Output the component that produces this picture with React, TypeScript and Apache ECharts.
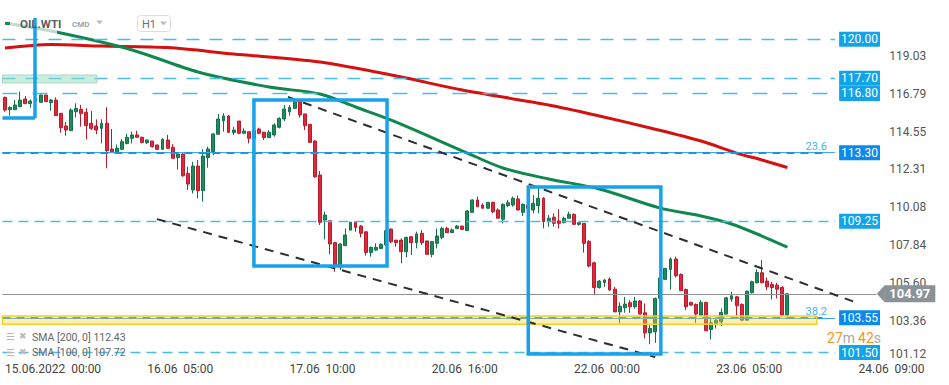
import React, { useEffect, useRef } from 'react';
import * as echarts from 'echarts';

// ---- candles (hourly) ----
const opens = [
  116.57, 115.84, 115.84, 116.02, 116.47, 116.20, 116.35, 116.28, 116.71, 116.26,
  116.41, 115.63, 114.88, 114.60, 115.72, 115.86, 115.69, 115.04, 114.88, 114.74,
  115.04, 113.52, 113.30, 113.50, 113.85, 114.15, 114.35, 114.21, 113.89, 113.99,
  113.76, 113.50, 114.05, 113.62, 113.01, 113.22, 112.08, 111.10, 112.51, 111.06,
  113.01, 113.36, 114.39, 115.19, 115.47, 114.50, 115.17, 114.45, 114.54, 114.15,
  114.70, 114.51, 114.19, 114.35, 114.80, 115.29, 115.72, 115.92, 116.36, 115.59,
  114.98, 113.99, 111.98, 109.32, 109.28, 107.99, 106.62, 107.81, 108.73, 109.19,
  108.97, 108.63, 107.41, 107.55, 107.65, 107.85, 108.79, 108.14, 108.14, 107.45,
  108.34, 107.99, 108.54, 108.09, 107.30, 107.95, 108.30, 108.83, 108.58, 108.83,
  108.97, 108.70, 109.78, 110.51, 110.21, 110.02, 110.37, 109.92, 109.37, 110.17,
  110.21, 110.57, 109.78, 110.21, 109.92, 110.17, 110.61, 109.23, 109.49, 109.27,
  109.17, 109.43, 109.66, 109.07, 109.13, 108.05, 106.80, 105.34, 105.64, 105.84,
  105.24, 103.90, 104.14, 104.44, 104.20, 104.54, 103.85, 102.66, 102.72, 104.69,
  105.82, 106.41, 107.02, 106.11, 105.22, 104.46, 104.34, 103.71, 104.46, 102.86,
  103.21, 103.31, 103.77, 104.65, 104.79, 104.34, 103.41, 105.03, 105.62, 106.21,
  105.72, 105.52, 105.48, 105.34, 103.71,
];
const closes = [
  115.82, 115.98, 116.12, 116.41, 116.20, 116.35, 116.50, 116.71, 116.32, 116.41,
  115.49, 114.78, 114.64, 115.82, 115.92, 115.61, 114.90, 114.74, 114.64, 115.04,
  113.42, 113.32, 113.56, 113.95, 114.21, 114.35, 114.21, 113.91, 114.05, 113.66,
  113.50, 114.09, 113.56, 112.97, 113.22, 111.94, 111.45, 112.51, 111.06, 113.10,
  113.52, 114.41, 115.29, 115.47, 114.50, 114.64, 114.45, 114.58, 114.15, 114.60,
  114.45, 114.19, 114.51, 114.94, 115.33, 115.88, 115.98, 116.32, 115.53, 114.90,
  113.91, 111.88, 109.19, 109.62, 107.91, 106.62, 107.91, 108.44, 109.19, 108.89,
  108.54, 107.41, 107.71, 107.71, 107.89, 108.70, 108.04, 107.99, 107.45, 108.30,
  107.99, 108.50, 107.99, 107.30, 108.05, 108.38, 108.83, 108.58, 108.74, 108.97,
  108.77, 109.86, 110.51, 110.11, 110.02, 110.37, 109.82, 109.43, 110.25, 110.35,
  110.61, 109.92, 110.25, 110.02, 110.31, 110.61, 109.23, 109.43, 109.13, 109.13,
  109.43, 109.66, 109.07, 109.17, 107.95, 106.61, 105.34, 105.72, 105.78, 105.19,
  103.90, 104.24, 104.36, 104.20, 104.54, 103.77, 102.66, 102.92, 104.69, 105.90,
  106.47, 107.02, 106.03, 105.15, 104.20, 104.30, 103.77, 104.46, 102.78, 103.25,
  103.41, 103.87, 104.73, 104.85, 104.26, 103.41, 105.13, 105.68, 106.23, 105.62,
  105.38, 105.34, 105.24, 103.71, 104.97,
];
const lows = [
  115.72, 115.49, 115.84, 116.02, 116.20, 115.96, 116.25, 116.28, 116.32, 115.78,
  115.49, 114.48, 114.31, 114.60, 115.39, 114.84, 114.09, 114.64, 114.39, 113.85,
  112.38, 113.32, 113.26, 113.46, 113.79, 113.85, 114.21, 113.85, 113.81, 113.60,
  113.50, 113.50, 113.56, 112.97, 112.30, 111.88, 111.10, 110.90, 110.60, 110.41,
  112.42, 113.16, 114.39, 114.54, 114.50, 114.35, 114.39, 114.45, 113.85, 114.10,
  114.39, 114.05, 114.19, 114.25, 114.74, 115.17, 115.49, 115.88, 115.37, 114.64,
  113.91, 111.82, 109.03, 108.18, 107.31, 106.27, 106.37, 107.81, 108.73, 108.63,
  108.30, 107.22, 107.16, 107.51, 107.61, 107.80, 107.95, 107.75, 106.77, 107.12,
  107.26, 107.65, 107.85, 107.30, 107.12, 107.65, 108.18, 108.58, 108.58, 108.79,
  108.77, 108.70, 109.78, 110.11, 110.02, 110.02, 109.72, 109.43, 109.13, 110.11,
  110.11, 109.88, 109.56, 109.95, 109.72, 109.72, 108.83, 108.93, 108.93, 108.83,
  109.13, 109.43, 109.07, 108.99, 107.40, 106.53, 104.89, 105.28, 105.38, 105.15,
  103.90, 103.22, 103.85, 103.85, 104.10, 103.77, 102.33, 101.99, 102.07, 104.60,
  105.82, 105.22, 105.93, 105.15, 104.00, 104.26, 103.25, 103.65, 102.78, 102.27,
  102.92, 103.06, 103.77, 104.50, 103.67, 103.41, 103.41, 104.99, 105.58, 105.58,
  105.19, 104.63, 104.69, 103.71, 103.57,
];
const highs = [
  116.61, 116.04, 116.41, 116.91, 116.65, 116.45, 116.60, 116.75, 116.71, 116.47,
  116.57, 115.63, 115.11, 115.92, 116.22, 116.12, 115.92, 115.76, 115.27, 115.27,
  115.98, 114.70, 113.79, 114.09, 114.41, 114.54, 114.60, 114.25, 114.09, 113.99,
  113.76, 114.15, 114.35, 113.81, 113.30, 113.26, 112.48, 112.76, 112.87, 113.50,
  113.66, 114.45, 115.59, 115.63, 115.53, 114.84, 115.17, 114.74, 114.54, 114.70,
  114.78, 114.54, 114.64, 115.04, 115.39, 116.12, 116.12, 116.51, 116.51, 115.59,
  114.98, 114.05, 112.22, 109.82, 109.32, 108.04, 107.95, 108.83, 109.22, 109.22,
  109.03, 108.63, 107.75, 107.95, 107.95, 108.75, 108.83, 108.14, 108.24, 108.34,
  108.34, 108.64, 108.73, 108.09, 108.09, 108.83, 108.93, 108.93, 108.83, 109.03,
  108.97, 109.92, 110.55, 110.71, 110.31, 110.37, 110.41, 110.02, 110.31, 110.51,
  110.71, 110.76, 110.31, 110.25, 110.80, 111.26, 110.67, 109.62, 109.72, 109.96,
  109.52, 109.82, 109.72, 109.19, 109.13, 108.14, 106.86, 105.78, 105.84, 105.93,
  105.38, 104.46, 104.79, 104.59, 104.79, 104.59, 104.40, 103.12, 104.75, 106.00,
  106.47, 107.12, 107.16, 106.17, 105.28, 104.50, 104.40, 104.59, 104.50, 103.51,
  103.57, 104.10, 104.79, 105.09, 104.85, 104.40, 105.13, 105.74, 106.41, 106.96,
  105.93, 105.68, 105.62, 105.42, 104.99,
];

// ---- time axis ----
const categoryCount = 172;
const timeLabelIdx = [0, 28, 56, 84, 112, 140, 168];
const timeLabels = ['15.06.2022  00:00', '16.06  05:00', '17.06  10:00', '20.06  16:00', '22.06  00:00', '23.06  05:00', '24.06  09:00'];

// ---- price axis ----
const priceTicks = [101.12, 103.36, 105.6, 107.84, 110.08, 112.31, 114.55, 116.79, 119.03];
const priceMin = 100.94;
const priceMax = 122.32;

// ---- moving averages (read at sampled candles) ----
const sma200Idx = [0, 9, 19, 32, 45, 62, 78, 90, 107, 117, 127, 137, 144, 149, 154];
const sma200Val = [119.48, 119.69, 119.6, 119.51, 119.13, 118.66, 117.77, 117.0, 116.12, 115.47, 114.76, 113.99, 113.28, 112.87, 112.43];
const sma100Idx = [0, 11, 25, 38, 52, 62, 69, 77, 91, 98, 107, 117, 129, 137, 143, 149, 154];
const sma100Val = [120.96, 120.37, 119.37, 118.07, 117.18, 116.77, 116.0, 115.11, 113.28, 112.4, 111.75, 111.16, 110.03, 109.56, 109.09, 108.38, 107.72];

// ---- levels ----
const levelValues = [120.0, 117.7, 116.8, 113.3, 109.25, 103.55, 101.5];
const levelFib = ['', '', '', '23.6', '', '38.2', ''];
const levelDash = [[13, 10], [13, 10], [15, 15], [8, 6], [10, 6], [8, 6], [10, 6]];
const lastPrice = 104.97;
const levelStart = -0.5;
const levelEnd = 163.4;

// ---- trend lines [i0, v0, i1, v1] ----
const trendLines = [
  [55.7, 116.59, 167.3, 104.48],
  [29.9, 109.38, 128.0, 101.23],
];
// ---- boxes [i0, vTop, i1, vBottom] ----
const boxes = [
  [49.0, 116.41, 75.2, 106.61],
  [103.0, 111.27, 129.1, 101.41],
];
const cornerBox = [-0.5, 121.26, 5.9, 115.35];
// ---- zones ----
const greenZone = [-0.98, 117.89, 18.1, 117.42];
const yellowZone = [-0.98, 103.65, 159.8, 103.17];

const smaLegend = ['SMA [200, 0] 112.43', 'SMA [100, 0] 107.72'];

const LIGHT_BOX = '#12a4ea';
const DARK_BOX = '#0b89ef';
const BOX_BLUE = '#17a2ea';

export default function App() {
  const ref = useRef<HTMLDivElement>(null);

  useEffect(() => {
    document.body.style.margin = '0';
    if (!ref.current) return;
    const chart = echarts.init(ref.current, undefined, { renderer: 'svg' });

    const categories = Array.from({ length: categoryCount }, (_, i) => {
      const k = timeLabelIdx.indexOf(i);
      return k >= 0 ? timeLabels[k] : '';
    });
    const candles = opens.map((o, i) => [o, closes[i], lows[i], highs[i]]);

    const levelItems: any[] = [];
    levelValues.forEach((v, k) => {
      const fib = levelFib[k] !== '';
      if (fib) {
        levelItems.push([
          {
            coord: [levelStart, v],
            lineStyle: { color: '#3aa9f0', width: 1.2, type: 'solid' },
            label: {
              show: true, position: 'end', formatter: v.toFixed(2), color: '#fff',
              backgroundColor: DARK_BOX, padding: [1, 2, 0, 2], fontSize: 12, lineHeight: 14, distance: 4,
            },
          },
          { coord: [levelEnd, v] },
        ]);
        levelItems.push([
          {
            coord: [levelStart, v],
            lineStyle: { color: '#1a93ec', width: 1.8, type: levelDash[k] },
            label: {
              show: true, position: 'insideEndTop', formatter: levelFib[k], color: '#45b3f0',
              fontSize: 11, distance: 1,
            },
          },
          { coord: [levelEnd - 1.4, v] },
        ]);
      } else {
        levelItems.push([
          {
            coord: [levelStart, v],
            lineStyle: { color: '#4cbaf1', width: 1.3, type: levelDash[k] },
            label: {
              show: true, position: 'end', formatter: v.toFixed(2), color: '#fff',
              backgroundColor: LIGHT_BOX, padding: [1, 2, 0, 2], fontSize: 12, lineHeight: 14, distance: 4,
            },
          },
          { coord: [levelEnd, v] },
        ]);
      }
    });
    levelItems.push([
      {
        coord: [levelStart, lastPrice],
        lineStyle: { color: '#909090', width: 1, type: 'solid' },
        label: {
          show: true, position: 'end', formatter: lastPrice.toFixed(2), color: '#fff', fontWeight: 'bold',
          backgroundColor: '#8b9296', padding: [2, 5, 1, 5], fontSize: 13, lineHeight: 14, distance: 8,
        },
      },
      { coord: [categoryCount - 0.5, lastPrice] },
    ]);

    const trendItems = trendLines.map((t) => [
      { coord: [t[0], t[1]] },
      { coord: [t[2], t[3]] },
    ]);

    const boxItems = boxes.map((b) => [
      { coord: [b[0], b[1]] },
      { coord: [b[2], b[3]] },
    ]);

    const cornerItems = [
      [{ coord: [cornerBox[2], cornerBox[1]] }, { coord: [cornerBox[2], cornerBox[3]] }],
      [{ coord: [cornerBox[0], cornerBox[3]] }, { coord: [cornerBox[2], cornerBox[3]] }],
    ];

    const emptySeries = (name: string) => ({
      type: 'line', name, xAxisIndex: 1, yAxisIndex: 0, data: [[levelStart, lastPrice]],
      showSymbol: false, symbol: 'none', lineStyle: { opacity: 0 }, clip: false, silent: true,
    });

    const iconText = (id: string, x: number, y: number, t: string, size: number) => ({
      id, type: 'text', x, y, z: 10,
      style: { text: t, fill: '#b9b9b9', fontSize: size, verticalAlign: 'middle', fontFamily: 'DejaVu Sans' },
    });

    const graphics: any[] = [
      { id: 'fade', type: 'rect', z: 3, shape: { x: 0, y: 12, width: 57, height: 25 }, style: { fill: 'rgba(255,255,255,0.72)' } },
      { id: 'gdash', type: 'rect', z: 10, shape: { x: 5, y: 22, width: 5, height: 3 }, style: { fill: '#1b8a52' } },
      { id: 'sym', type: 'text', x: 20, y: 23.5, z: 10, style: { text: 'OIL.WTI', fill: '#5a5f63', fontSize: 11.5, fontWeight: 'bold', verticalAlign: 'middle', fontFamily: 'Roboto' } },
      { id: 'cmd', type: 'text', x: 72, y: 24.5, z: 10, style: { text: 'CMD', fill: '#9ba1a6', fontSize: 8, fontWeight: 'bold', verticalAlign: 'middle', fontFamily: 'Roboto' } },
      { id: 'tri1', type: 'polygon', z: 10, shape: { points: [[96, 20.5], [103, 20.5], [99.5, 24.5]] }, style: { fill: '#bcc0c4' } },
      { id: 'h1box', type: 'rect', z: 10, shape: { x: 137.5, y: 15.5, width: 33, height: 16, r: 3 }, style: { fill: '#fff', stroke: '#dedede', lineWidth: 1 } },
      { id: 'h1', type: 'text', x: 142, y: 24, z: 11, style: { text: 'H1', fill: '#6a6f73', fontSize: 11, verticalAlign: 'middle', fontFamily: 'Roboto' } },
      { id: 'tri2', type: 'polygon', z: 11, shape: { points: [[160, 21.5], [167, 21.5], [163.5, 25.5]] }, style: { fill: '#bcc0c4' } },
      iconText('ic1a', 6, 336.5, '☰', 10),
      iconText('ic1b', 19, 336, '✖', 9),
      iconText('ic2a', 6, 352, '☰', 10),
      iconText('ic2b', 19, 351.5, '✖', 9),
      { id: 'lg1', type: 'text', x: 32, y: 337, z: 10, style: { text: smaLegend[0], fill: '#666', fontSize: 10.5, verticalAlign: 'middle', fontFamily: 'Roboto' } },
      { id: 'lg2', type: 'text', x: 32, y: 352.5, z: 10, style: { text: smaLegend[1], fill: '#666', fontSize: 10.5, verticalAlign: 'middle', fontFamily: 'Roboto' } },
      {
        id: 'timer', type: 'text', x: 881, y: 337.5, z: 10,
        style: {
          text: '{n|27}{u|m} {n|42}{u|s}', align: 'right', verticalAlign: 'middle', fontFamily: 'Roboto',
          rich: { n: { fill: '#f7941d', fontSize: 14, fontFamily: 'Roboto' }, u: { fill: '#a8a8a8', fontSize: 14, fontFamily: 'Roboto' } },
        },
      },
    ];

    const option: any = {
      animation: false,
      backgroundColor: '#ffffff',
      textStyle: { fontFamily: 'Roboto' },
      grid: { left: 2.46, top: 0, width: 873.8, height: 362, containLabel: false },
      xAxis: [
        {
          type: 'category', data: categories, boundaryGap: true,
          axisLine: { show: false }, axisTick: { show: false }, splitLine: { show: false },
          axisLabel: { interval: 0, align: 'left', margin: 1, color: '#444', fontSize: 12, fontFamily: 'Roboto' },
        },
        { type: 'value', min: -0.5, max: categoryCount - 0.5, show: false },
      ],
      yAxis: {
        type: 'value', position: 'right', min: priceMin, max: priceMax, scale: true,
        axisLine: { show: false }, splitLine: { show: false },
        axisTick: { show: false },
        axisLabel: {
          customValues: priceTicks, margin: 13, color: '#555', fontSize: 12, fontFamily: 'Roboto',
          formatter: (v: number) => (v < 102 ? `{low|${v.toFixed(2)}}` : v.toFixed(2)),
          rich: { low: { padding: [0, 0, 10, 0], color: '#555', fontSize: 12, fontFamily: 'Roboto' } },
        },
      },
      series: [
        {
          type: 'candlestick', name: 'OIL.WTI', xAxisIndex: 0, yAxisIndex: 0, data: candles, barWidth: 3.4, z: 2,
          itemStyle: { color: '#1f8b58', color0: '#e0283a', borderColor: '#13704a', borderColor0: '#b81b2b', borderWidth: 1 },
        },
        {
          type: 'line', name: 'SMA200', xAxisIndex: 1, yAxisIndex: 0, z: 2,
          data: sma200Idx.map((x, k) => [x, sma200Val[k]]), smooth: 0.3, showSymbol: false, symbol: 'none',
          lineStyle: { color: '#d5100f', width: 3 },
        },
        {
          type: 'line', name: 'SMA100', xAxisIndex: 1, yAxisIndex: 0, z: 2,
          data: sma100Idx.map((x, k) => [x, sma100Val[k]]), smooth: 0.3, showSymbol: false, symbol: 'none',
          lineStyle: { color: '#10874e', width: 3 },
        },
        {
          ...emptySeries('levels'),
          markLine: { z: 3, symbol: ['none', 'none'], silent: true, animation: false, data: levelItems },
        },
        {
          ...emptySeries('zones'),
          markArea: {
            z: 4, silent: true, animation: false, label: { show: false },
            data: [
              [
                { coord: [greenZone[0], greenZone[1]], itemStyle: { color: 'rgba(150,222,190,0.5)', borderColor: '#a3dbc2', borderWidth: 1 } },
                { coord: [greenZone[2], greenZone[3]] },
              ],
              [
                { coord: [yellowZone[0], yellowZone[1]], itemStyle: { color: 'rgba(246,214,60,0.38)', borderColor: '#f3cf2a', borderWidth: 1.5 } },
                { coord: [yellowZone[2], yellowZone[3]] },
              ],
            ],
          },
        },
        {
          ...emptySeries('trends'),
          markLine: {
            z: 5, symbol: ['none', 'none'], silent: true, animation: false,
            label: { show: false },
            lineStyle: { color: '#2b2f33', width: 2, type: [9, 7] },
            data: trendItems,
          },
        },
        {
          ...emptySeries('boxes'),
          markArea: {
            z: 6, silent: true, animation: false, label: { show: false },
            itemStyle: { color: 'rgba(0,0,0,0)', borderColor: BOX_BLUE, borderWidth: 3.5 },
            data: boxItems,
          },
        },
        {
          ...emptySeries('corner'),
          markLine: {
            z: 6, symbol: ['none', 'none'], silent: true, animation: false,
            label: { show: false },
            lineStyle: { color: BOX_BLUE, width: 3.5, type: 'solid' },
            data: cornerItems,
          },
        },
      ],
      graphic: graphics,
    };

    chart.setOption(option);

    const pt = chart.convertToPixel({ xAxisIndex: 1, yAxisIndex: 0 } as any, [categoryCount - 0.5, lastPrice]) as number[];
    if (pt && isFinite(pt[0]) && isFinite(pt[1])) {
      chart.setOption({
        graphic: [
          {
            id: 'arrow', type: 'polygon', z: 10,
            shape: { points: [[pt[0] + 0.5, pt[1]], [pt[0] + 8.5, pt[1] - 8.5], [pt[0] + 8.5, pt[1] + 8.5]] },
            style: { fill: '#8b9296' },
          },
        ],
      });
    }

    return () => chart.dispose();
  }, []);

  return (
    <div
      ref={ref}
      style={{ position: 'absolute', left: 0, top: 0, width: 949, height: 385, background: '#fff' }}
    />
  );
}
